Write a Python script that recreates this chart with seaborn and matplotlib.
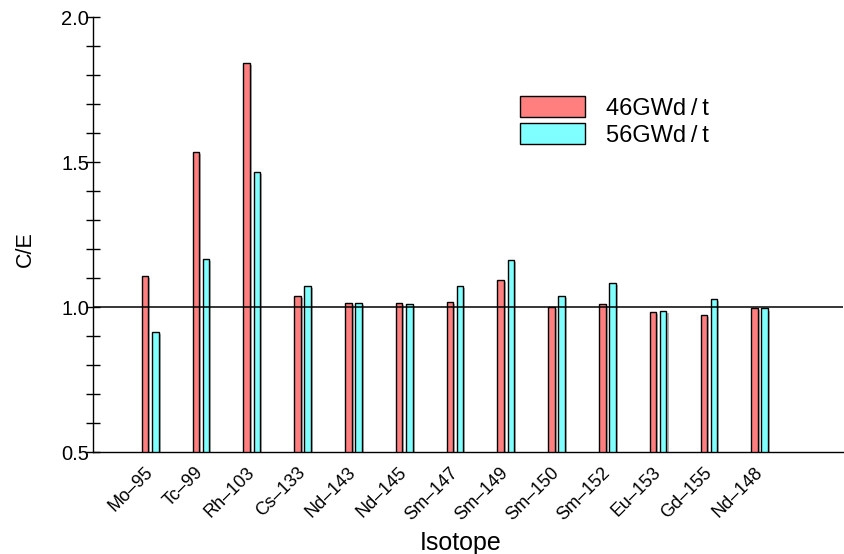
import matplotlib
matplotlib.use("Agg")
import matplotlib.pyplot as plt
import matplotlib.patheffects as pe
from matplotlib.patches import Patch
from matplotlib.ticker import MultipleLocator
import numpy as np
import pandas as pd
import seaborn as sns

isotopes = ["Mo\u201395", "Tc\u201399", "Rh\u2013103", "Cs\u2013133", "Nd\u2013143", "Nd\u2013145",
            "Sm\u2013147", "Sm\u2013149", "Sm\u2013150", "Sm\u2013152", "Eu\u2013153", "Gd\u2013155", "Nd\u2013148"]
ce_46 = [1.106, 1.534, 1.840, 1.038, 1.014, 1.014, 1.017, 1.092, 0.999, 1.011, 0.983, 0.971, 0.998]
ce_56 = [0.913, 1.167, 1.465, 1.071, 1.014, 1.009, 1.074, 1.163, 1.037, 1.082, 0.985, 1.027, 0.995]
series = ["46GWd\u2009/\u2009t", "56GWd\u2009/\u2009t"]
colors = ["#FF7F7F", "#7FFFFF"]

df = pd.DataFrame({
    "Isotope": isotopes * 2,
    "CE": ce_46 + ce_56,
    "Burnup": [series[0]] * len(isotopes) + [series[1]] * len(isotopes),
})

sns.set_style("white")
plt.rcParams["font.family"] = ["Liberation Sans", "DejaVu Sans"]
plt.rcParams["text.color"] = "black"
plt.rcParams["xtick.color"] = "black"
plt.rcParams["ytick.color"] = "black"
plt.rcParams["xtick.labelcolor"] = "black"
plt.rcParams["ytick.labelcolor"] = "black"

fig = plt.figure(figsize=(8.45, 5.54), dpi=100)
ax = fig.add_axes([93 / 845, 1 - 452 / 554, 750 / 845, 435 / 554])

sns.barplot(data=df, x="Isotope", y="CE", hue="Burnup", palette=colors,
            width=0.4, gap=0.35, edgecolor="black", linewidth=1.0,
            legend=False, ax=ax, saturation=1)

shadow = [pe.SimplePatchShadow(offset=(1.5, -1.5), shadow_rgbFace="gray", alpha=0.6), pe.Normal()]
for bar in ax.patches:
    bar.set_path_effects(shadow)

ax.axhline(1.0, color="black", lw=1.1, zorder=1)

ax.set_ylim(0.5, 2.0)
ax.set_xlim(-1.126, 13.64)
ax.yaxis.set_major_locator(MultipleLocator(0.5))
ax.yaxis.set_minor_locator(MultipleLocator(0.1))
ax.set_yticks([0.5, 1.0, 1.5, 2.0])
ax.set_yticklabels(["0.5", "1.0", "1.5", "2.0"], fontsize=14.5, color="black")
ax.tick_params(axis="y", which="both", direction="inout", length=9.4, width=1.0,
               color="black", left=True, pad=-2)
ax.tick_params(axis="x", bottom=False, length=0, pad=13)

for sp in ["top", "right"]:
    ax.spines[sp].set_visible(False)
for sp in ["left", "bottom"]:
    ax.spines[sp].set_color("black")
    ax.spines[sp].set_linewidth(1.0)

for lab in ax.get_xticklabels():
    lab.set_rotation(45)
    lab.set_ha("right")
    lab.set_va("center")
    lab.set_rotation_mode("anchor")
    lab.set_fontsize(13)
    lab.set_color("black")

ax.set_xlabel("")
ax.set_ylabel("")
fig.text(461 / 845, 1 - 550 / 554, "Isotope", ha="center", va="baseline", fontsize=18, color="black")
fig.text(25 / 845, 1 - 249 / 554, "C/E", ha="center", va="center", rotation=90, fontsize=15.5, color="black")

handles = [Patch(facecolor=c, edgecolor="black", linewidth=1.0) for c in colors]
ax.legend(handles, series, loc="upper left", bbox_to_anchor=(520 / 845, 1 - 96 / 554),
          bbox_transform=fig.transFigure, frameon=False, fontsize=17,
          handlelength=2.75, handleheight=1.0, handletextpad=0.9,
          labelspacing=0.15, borderpad=0, borderaxespad=0, labelcolor="black")

fig.savefig("out.png", dpi=100)
